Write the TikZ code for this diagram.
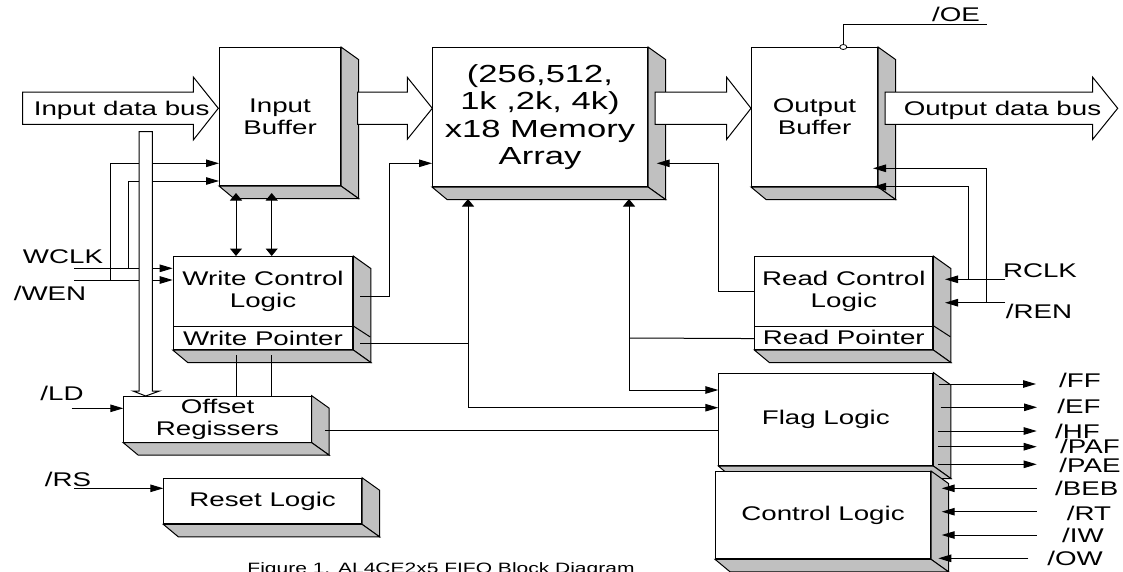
\documentclass[tikz,border=0pt]{standalone}
\usepackage{fontspec}
\setmainfont{Liberation Sans}[FakeStretch=1.4]
\usetikzlibrary{arrows.meta,calc}
\definecolor{boxgray}{HTML}{C0C0C0}
\newcommand\boxfaces[2]{%
  \filldraw[face] (#1.north east) -- ++(17.5,12.5) -- ($(#2.south east)+(17.5,12.5)$) -- (#2.south east) -- cycle;
  \filldraw[face] (#2.south west) -- ++(15,12.5) -- ($(#2.south east)+(17.5,12.5)$) -- (#2.south east) -- cycle;
}
\begin{document}
\begin{tikzpicture}[x=1pt,y=-1pt,line width=1pt,
  txt/.style={font=\fontsize{19.8}{21.8}\selectfont},
  lbl/.style={txt,inner sep=0pt,text height=14pt,text depth=0pt},
  blk/.style={draw,fill=white,inner sep=0pt,anchor=north west,align=center,txt},
  face/.style={fill=boxgray,draw},
  bus/.style={draw,fill=white},
  ha/.style={-{Triangle[length=13pt,width=7.5pt]}},
  va/.style={-{Triangle[length=7.5pt,width=12pt]}},
  vv/.style={{Triangle[length=7.5pt,width=12pt]}-{Triangle[length=7.5pt,width=12pt]}},
  vh/.style={{Triangle[length=7.5pt,width=12pt]}-{Triangle[length=13pt,width=7.5pt]}},
]
\useasboundingbox (0,0) rectangle (1123,571);

% ---------- boxes ----------
\node[blk,minimum width=121pt,minimum height=138pt] (ib) at (219,47) {Input\\Buffer};
\boxfaces{ib}{ib}
\node[blk,minimum width=215pt,minimum height=139pt,font=\fontsize{24.7}{27.5}\selectfont] (mem) at (432,47) {(256,512,\\1k ,2k, 4k)\\x18 Memory\\Array};
\boxfaces{mem}{mem}
\node[blk,minimum width=126pt,minimum height=139pt] (ob) at (751,47) {Output\\Buffer};
\boxfaces{ob}{ob}

\node[blk,minimum width=179.6pt,minimum height=70pt] (wcl) at (172.7,256) {Write Control\\Logic};
\node[blk,minimum width=179.6pt,minimum height=23pt] (wp) at (172.7,326) {Write Pointer};
\boxfaces{wcl}{wp}
\draw (wp.north east) -- ++(17,11);

\node[blk,minimum width=178pt,minimum height=69.7pt] (rcl) at (754.3,256) {Read Control\\Logic};
\node[blk,minimum width=178pt,minimum height=23.3pt] (rp) at (754.3,325.7) {Read Pointer};
\boxfaces{rcl}{rp}
\draw (rp.north east) -- ++(17,11);

\node[blk,minimum width=187.4pt,minimum height=46pt] (off) at (123.3,395.7) {Offset\\Regissers};
\boxfaces{off}{off}
\node[blk,minimum width=197.7pt,minimum height=45.6pt] (rst) at (163.3,477.7) {Reset Logic};
\boxfaces{rst}{rst}

\node[blk,minimum width=214pt,minimum height=92.5pt] (flag) at (718.3,372.5) {Flag Logic};
\boxfaces{flag}{flag}
\node[blk,minimum width=215pt,minimum height=87.3pt] (ctl) at (715,471) {Control Logic};
\boxfaces{ctl}{ctl}

% ---------- wide bus arrows ----------
\draw[bus] (22.7,92) -- (193.3,92) -- (193.3,77) -- (218.3,108.3) -- (193.3,140) -- (193.3,124.3) -- (22.7,124.3) -- cycle;
\node[lbl] (idb) at (121.7,108.3) {Input data bus};
\draw[bus] (357.7,92) -- (407.3,92) -- (407.3,77.3) -- (432.3,108.3) -- (407.3,139.3) -- (407.3,124.3) -- (357.7,124.3) -- cycle;
\draw[bus] (655,92) -- (726.7,92) -- (726.7,77.3) -- (751,108.3) -- (726.7,139.3) -- (726.7,124.3) -- (655,124.3) -- cycle;
\draw[bus] (885,92) -- (1092.7,92) -- (1092.7,77.3) -- (1117.7,108.3) -- (1092.7,139.3) -- (1092.7,124.3) -- (885,124.3) -- cycle;
\node[lbl] (odb) at (1002.5,108.3) {Output data bus};

% ---------- write side ----------
\coordinate (wclk) at (74,268.3);
\coordinate (wen) at (74,280);
\coordinate (wj1) at (128.3,268.3);
\coordinate (wj2) at (110,280);
\draw[ha] (wclk) -- (wcl.west |- wclk);
\draw[ha] (wen) -- (wcl.west |- wen);
\draw[ha] (wj1) |- (219,181);
\draw[ha] (wj2) |- (219,163.3);
\node[lbl] (lwclk) at (63,256) {WCLK};
\node[lbl] (lwen) at (50,293) {/WEN};

\draw[vv] (236,193) -- (236,256);
\draw[vv] (271.7,193) -- (271.7,256);

\draw[ha] (360,296.7) -| (389,163.3) -- (mem.west |- 0,163.3);
\draw (360,343.3) -- (468,343.3);
\draw[vh] (468,199) |- (flag.west |- 0,407.7);
\draw[vh] (629,199) |- (flag.west |- 0,390);
\draw (rp.west) ++(0,0.7) -- (629,338);
\draw[ha] (rcl.west |- 0,291) -| (718.3,163.3) -- (656.7,163.3);

% bus down to offset registers
\draw[bus] (139,391) -- (139,131.7) -- (152.3,131.7) -- (152.3,391) -- (159.5,391) -- (145.7,396) -- (133,391) -- cycle;

\draw (236,355) -- (236,395.7);
\draw (271.7,355) -- (271.7,395.7);
\draw (325,430) -- (flag.west |- 0,430);

\coordinate (ld) at (71.7,408.3);
\draw[ha] (ld) -- (off.west |- ld);
\node[lbl] (lld) at (62,393) {/LD};
\coordinate (rs) at (74,488.3);
\draw[ha] (rs) -- (rst.west |- rs);
\node[lbl] (lrs) at (68,479) {/RS};

% ---------- read side ----------
\coordinate (rclk) at (1005,279.3);
\coordinate (ren) at (1005,302.7);
\draw[ha] (rclk) -- (945,279.3);
\draw[ha] (ren) -- (945,302.7);
\draw[ha] (968.3,279.3) |- (873,186.7);
\draw[ha] (986.7,302.7) |- (873,168.3);
\node[lbl] (lrclk) at (1040,270) {RCLK};
\node[lbl] (lren) at (1039,311) {/REN};

\draw (843.3,44.5) -- (843.3,24) -- (986.7,24);
\draw[fill=white,line width=0.8pt] (843.3,47) ellipse (3.5 and 2.5);
\node[lbl] (loe) at (956,14) {/OE};

% ---------- flags ----------
\draw[ha] (939.3,384) -- (1036,384);
\draw[ha] (940.7,407.3) -- (1037,407.3);
\draw[ha] (938,431) -- (1036.7,431);
\draw[ha] (938,446.7) -- (1036.7,446.7);
\draw[ha] (938,464.3) -- (1036.7,464.3);
\node[lbl] (lff) at (1080,380.7) {/FF};
\node[lbl] (lef) at (1079,406.7) {/EF};
\node[lbl] (lhf) at (1077.5,431.7) {/HF};
\node[lbl] (lpaf) at (1090,446.7) {/PAF};
\node[lbl] (lpae) at (1090,465) {/PAE};

\draw[ha] (1036.7,488.3) -- (941.7,488.3);
\draw[ha] (1036.7,511.7) -- (941.7,511.7);
\draw[ha] (1036.7,535) -- (941.7,535);
\draw[ha] (1028.3,558.3) -- (938.3,558.3);
\node[lbl] (lbeb) at (1086.7,488.3) {/BEB};
\node[lbl] (lrt) at (1089,513.3) {/RT};
\node[lbl] (liw) at (1083,535) {/IW};
\node[lbl] (low) at (1075,558.3) {/OW};

% ---------- caption ----------
\node[anchor=base,inner sep=0pt,font=\fontsize{15}{17}\selectfont] (cap) at (441,573.7) {Figure 1. AL4CE2x5 FIFO Block Diagram};
\end{tikzpicture}
\end{document}
